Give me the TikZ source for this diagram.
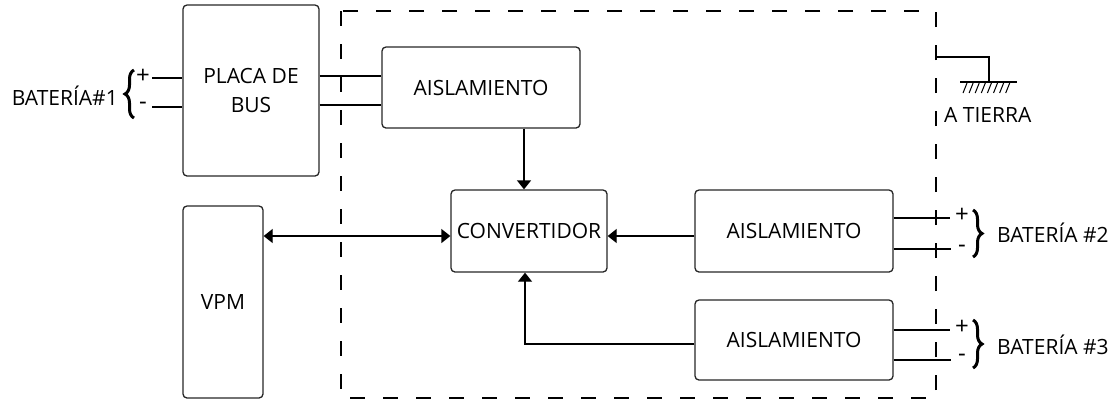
\documentclass[tikz,border=0pt]{standalone}
\usepackage{fontspec}
\setmainfont{Open Sans}
\usetikzlibrary{arrows.meta,decorations.pathreplacing}
\begin{document}
\begin{tikzpicture}[x=1pt,y=-1pt,
  box/.style={draw=black!85, line width=1.3pt, rounded corners=4pt, inner sep=0pt, align=center, font=\fontsize{21}{29}\selectfont},
  wire/.style={line width=1.3pt},
  arr/.style={wire,-{Triangle[length=9pt,width=14pt]}},
  darr/.style={wire,{Triangle[length=9pt,width=14pt]}-{Triangle[length=9pt,width=14pt]}},
  lbl/.style={inner sep=0pt, font=\fontsize{21}{25}\selectfont},
  pm/.style={inner sep=0pt, font=\fontsize{24}{26}\selectfont},
  brc/.style={decorate, decoration={brace, amplitude=9pt}, line width=3pt},
  dashbox/.style={line width=1.1pt, dash pattern=on 15pt off 18pt}
]
\useasboundingbox (0,0) rectangle (1116,400);

% dashed enclosure
\draw[dashbox] (341,11) rectangle (936,398);

% blocks
\node[box, minimum width=136pt, minimum height=171pt] (placa) at (251,90.5) {PLACA DE\\BUS};
\node[box, minimum width=198pt, minimum height=81pt] (ais1) at (481,87.5) {AISLAMIENTO};
\node[box, minimum width=156pt, minimum height=82pt] (conv) at (529,231) {CONVERTIDOR};
\node[box, minimum width=198pt, minimum height=82pt] (ais2) at (794,231) {AISLAMIENTO};
\node[box, minimum width=198pt, minimum height=80pt] (ais3) at (794,340) {AISLAMIENTO};
\node[box, minimum width=80pt, minimum height=192pt] (vpm) at (223,302) {VPM};

% battery 1
\coordinate (b1p) at (152,78);
\coordinate (b1m) at (152,107);
\draw[wire] (b1p) -- (placa.west |- b1p);
\draw[wire] (b1m) -- (placa.west |- b1m);
\node[pm] (p1) at (143,76) {+};
\node[pm] (m1) at (143,106) {-};
\draw[brc] (134,118) -- (134,70);
\node[lbl, anchor=east] (bat1) at (118,96) {BATERÍA\#1};

% placa to aislamiento
\coordinate (y76) at (0,76);
\coordinate (y105) at (0,105);
\draw[wire] (placa.east |- y76) -- (ais1.west |- y76);
\draw[wire] (placa.east |- y105) -- (ais1.west |- y105);

% arrows to converter
\coordinate (a1) at (524,0);
\draw[arr] (ais1.south -| a1) -- (conv.north -| a1);
\coordinate (y236) at (0,236);
\draw[darr] (vpm.east |- y236) -- (conv.west |- y236);
\draw[arr] (ais2.west |- y236) -- (conv.east |- y236);
\coordinate (c3) at (525,344);
\draw[arr] (ais3.west |- c3) -- (c3) -- (conv.south -| c3);

% battery 2
\coordinate (b2p) at (950,218);
\coordinate (b2m) at (951,249);
\draw[wire] (ais2.east |- b2p) -- (b2p);
\draw[wire] (ais2.east |- b2m) -- (b2m);
\node[pm] (p2) at (962,215) {+};
\node[pm] (m2) at (962,249) {-};
\draw[brc] (973,210) -- (973,257);
\node[lbl, anchor=west] (bat2) at (997,233) {BATERÍA \#2};

% battery 3
\coordinate (b3p) at (950,330);
\coordinate (b3m) at (951,360);
\draw[wire] (ais3.east |- b3p) -- (b3p);
\draw[wire] (ais3.east |- b3m) -- (b3m);
\node[pm] (p3) at (962,327) {+};
\node[pm] (m3) at (962,358) {-};
\draw[brc] (973,320) -- (973,368);
\node[lbl, anchor=west] (bat3) at (997,345) {BATERÍA \#3};

% ground
\coordinate (g0) at (936,57);
\coordinate (g1) at (989,82);
\draw[wire] (g0) -| (g1);
\draw[wire] (960,82) -- (1017,82);
\foreach \i in {0,...,7} \draw[line width=1pt] (967+\i*6.1,83) -- ++(-4,10);
\node[lbl, anchor=west] (tierra) at (944,115) {A TIERRA};
\end{tikzpicture}
\end{document}
